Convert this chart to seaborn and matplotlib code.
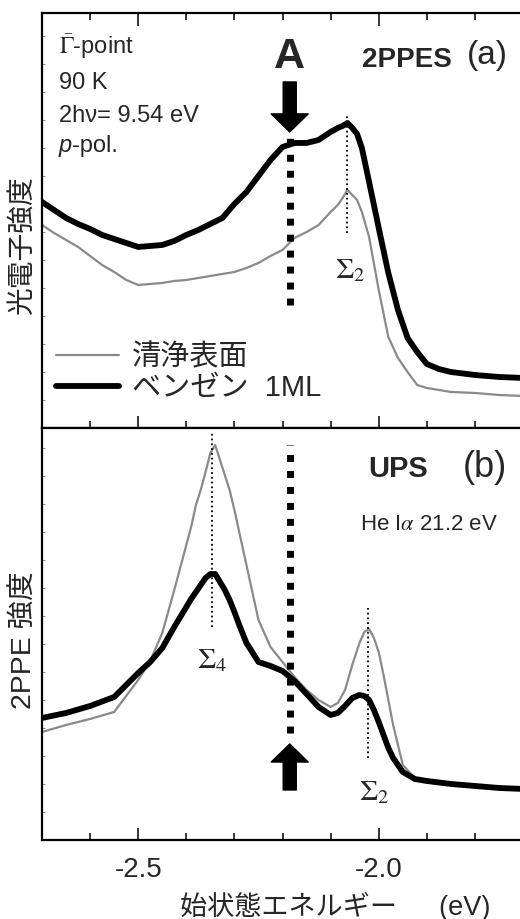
import matplotlib
matplotlib.use("Agg")
import matplotlib.pyplot as plt
import seaborn as sns
import pandas as pd
from matplotlib.ticker import MultipleLocator

# (a) 2PPES spectra, intensity in arbitrary units
energy_a = [-2.70, -2.675, -2.65, -2.625, -2.60, -2.575, -2.55, -2.525, -2.50, -2.475,
            -2.45, -2.425, -2.40, -2.375, -2.35, -2.325, -2.30, -2.275, -2.25, -2.225,
            -2.20, -2.175, -2.15, -2.125, -2.10, -2.085, -2.075, -2.065, -2.055, -2.045,
            -2.035, -2.02, -2.00, -1.98, -1.96, -1.94, -1.92, -1.90, -1.875, -1.85,
            -1.80, -1.75, -1.70]
benzene_a = [226, 218, 210, 204, 199, 193, 189, 185, 181, 182,
             183, 187, 193, 198, 204, 210, 224, 236, 252, 268,
             281, 285, 285, 288, 296, 300, 302, 305, 300, 294,
             280, 246, 200, 155, 118, 90, 76, 64, 59, 56,
             53, 51, 50]
clean_a = [203, 195, 188, 181, 172, 163, 156, 148, 143, 144,
           145, 147, 148, 150, 152, 154, 156, 160, 165, 172,
           178, 190, 196, 203, 216, 223, 230, 238, 233, 228,
           216, 191, 138, 91, 70, 56, 43, 40, 38, 36,
           35, 33, 32]

# (b) UPS spectra
energy_b = [-2.70, -2.65, -2.60, -2.55, -2.50, -2.475, -2.45, -2.425, -2.40, -2.39,
            -2.38, -2.37, -2.36, -2.35, -2.34, -2.33, -2.32, -2.31, -2.30, -2.29,
            -2.275, -2.25, -2.225, -2.20, -2.175, -2.15, -2.125, -2.10, -2.085, -2.07,
            -2.055, -2.04, -2.03, -2.02, -2.01, -2.00, -1.99, -1.98, -1.97, -1.96,
            -1.95, -1.925, -1.90, -1.85, -1.80, -1.75, -1.70]
benzene_b = [122, 127, 134, 143, 167, 178, 192, 213, 233, 241,
             248, 255, 262, 266, 266, 258, 250, 240, 228, 215,
             197, 178, 174, 169, 159, 146, 133, 125, 127, 134,
             142, 145, 144, 140, 130, 118, 105, 92, 82, 75,
             68, 61, 59, 56, 54, 52, 51]
clean_b = [108, 115, 121, 128, 160, 179, 207, 250, 295, 313,
           335, 350, 368, 387, 395, 380, 365, 350, 330, 308,
           275, 220, 193, 178, 163, 150, 140, 133, 137, 150,
           175, 197, 208, 211, 202, 188, 165, 140, 115, 95,
           75, 62, 60, 56, 54, 52, 50]

legend_labels = ["清浄表面", "ベンゼン  1ML"]
tick_values = [-2.5, -2.0]
tick_labels = ["-2.5", "-2.0"]

sns.set_theme(style="ticks")
plt.rcParams["font.family"] = ["Liberation Sans", "Noto Sans CJK JP"]
plt.rcParams["mathtext.fontset"] = "stix"

fig = plt.figure(figsize=(5.2, 9.19), dpi=100)
ax_a = fig.add_axes([0.0808, 0.5343, 0.925, 0.4516])
ax_b = fig.add_axes([0.0808, 0.0860, 0.925, 0.4483])

df_a = pd.DataFrame({"E": energy_a, "clean": clean_a, "benzene": benzene_a})
df_b = pd.DataFrame({"E": energy_b, "clean": clean_b, "benzene": benzene_b})

for ax, df, ymax in [(ax_a, df_a, 415), (ax_b, df_b, 412)]:
    sns.lineplot(data=df, x="E", y="clean", color="#8a8a8a", lw=1.6, ax=ax, label=legend_labels[0])
    sns.lineplot(data=df, x="E", y="benzene", color="black", lw=4.2, ax=ax, label=legend_labels[1])
    ax.set_xlim(-2.70, -1.70)
    ax.set_ylim(0, ymax)
    ax.set_xticks(tick_values)
    ax.xaxis.set_minor_locator(MultipleLocator(0.1))
    ax.yaxis.set_major_locator(MultipleLocator(28))
    ax.set_yticklabels([])
    ax.tick_params(axis="x", which="major", direction="in", length=9, width=1.3)
    ax.tick_params(axis="x", which="minor", direction="in", length=5, width=1.3)
    ax.tick_params(axis="y", which="major", direction="in", length=2, width=0.5, left=True,
                   color="#555555")
    for s in ax.spines.values():
        s.set_linewidth(1.6)
        s.set_color("black")
    ax.set_xlabel("")

ax_a.tick_params(axis="x", which="both", top=True, labelbottom=False)
ax_b.set_xticklabels(tick_labels, fontsize=20)
ax_b.tick_params(axis="x", which="major", pad=12)
ax_b.get_legend().remove()

# legend in panel (a)
leg = ax_a.legend(loc="upper left", bbox_to_anchor=(0.03, 0.205), frameon=False,
                  fontsize=21, handlelength=2.15, handletextpad=0.45,
                  labelspacing=0.12, borderpad=0, borderaxespad=0)

ax_a.set_ylabel("光電子強度", fontsize=20)
ax_a.yaxis.set_label_coords(-0.012, 0.44)
ax_b.set_ylabel("2PPE 強度", fontsize=20.5)
ax_b.yaxis.set_label_coords(-0.008, 0.485)
ax_b.set_xlabel("始状態エネルギー\u3000  (eV)", fontsize=19.5)
ax_b.xaxis.set_label_coords(0.61, -0.125)

# panel (a) annotations
ax_a.text(0.035, 0.901, r"$\bar{\Gamma}$-point", transform=ax_a.transAxes, fontsize=17, va="baseline")
ax_a.text(0.035, 0.817, "90 K", transform=ax_a.transAxes, fontsize=17, va="baseline")
ax_a.text(0.035, 0.737, "2hν= 9.54 eV", transform=ax_a.transAxes, fontsize=17, va="baseline")
ptxt = ax_a.text(0.035, 0.652, "p", transform=ax_a.transAxes, fontsize=17, va="bottom", style="italic")
ax_a.annotate("-pol.", xy=(1, 0), xycoords=ptxt, fontsize=17, va="bottom", ha="left")
ax_a.text(0.759, 0.87, "2PPES", transform=ax_a.transAxes, fontsize=20, fontweight="bold",
          ha="center", va="baseline")
ax_a.text(0.925, 0.878, "(a)", transform=ax_a.transAxes, fontsize=24, ha="center", va="baseline")

ax_a.plot([-2.185, -2.185], [123, 290], color="black", lw=5, dashes=(1, 1.3),
          dash_capstyle="butt", solid_capstyle="butt")
ax_a.annotate("", xy=(-2.185, 296), xytext=(-2.185, 346),
              arrowprops=dict(arrowstyle="simple,head_length=0.65,head_width=1.33,tail_width=0.47",
                              mutation_scale=20, color="black", shrinkA=0, shrinkB=0))
ax_a.text(-2.185, 371, "A", fontsize=31, fontweight="bold", ha="center", va="center")

ax_a.plot([-2.065, -2.065], [195, 313], color="black", lw=1.3, ls=":")
ax_a.text(-2.06, 158, r"$\Sigma_2$", fontsize=21, ha="center", va="center")

# panel (b) annotations
ax_b.text(0.740, 0.881, "UPS", transform=ax_b.transAxes, fontsize=21, fontweight="bold",
          ha="center", va="baseline")
ax_b.text(0.921, 0.881, "(b)", transform=ax_b.transAxes, fontsize=26, ha="center", va="baseline")
ax_b.text(0.661, 0.752, r"He I$\alpha$ 21.2 eV", transform=ax_b.transAxes, fontsize=16, va="baseline")

ax_b.plot([-2.185, -2.185], [107, 395], color="black", lw=5, dashes=(1, 1.3),
          dash_capstyle="butt", solid_capstyle="butt")
ax_b.annotate("", xy=(-2.185, 96), xytext=(-2.185, 50),
              arrowprops=dict(arrowstyle="simple,head_length=0.65,head_width=1.33,tail_width=0.47",
                              mutation_scale=20, color="black", shrinkA=0, shrinkB=0))

ax_b.plot([-2.346, -2.346], [213, 408], color="black", lw=1.3, ls=":")
ax_b.text(-2.346, 180, r"$\Sigma_4$", fontsize=21, ha="center", va="center")
ax_b.plot([-2.023, -2.023], [82, 232], color="black", lw=1.3, ls=":")
ax_b.text(-2.01, 48, r"$\Sigma_2$", fontsize=21, ha="center", va="center")

fig.savefig("out.png", dpi=100)
